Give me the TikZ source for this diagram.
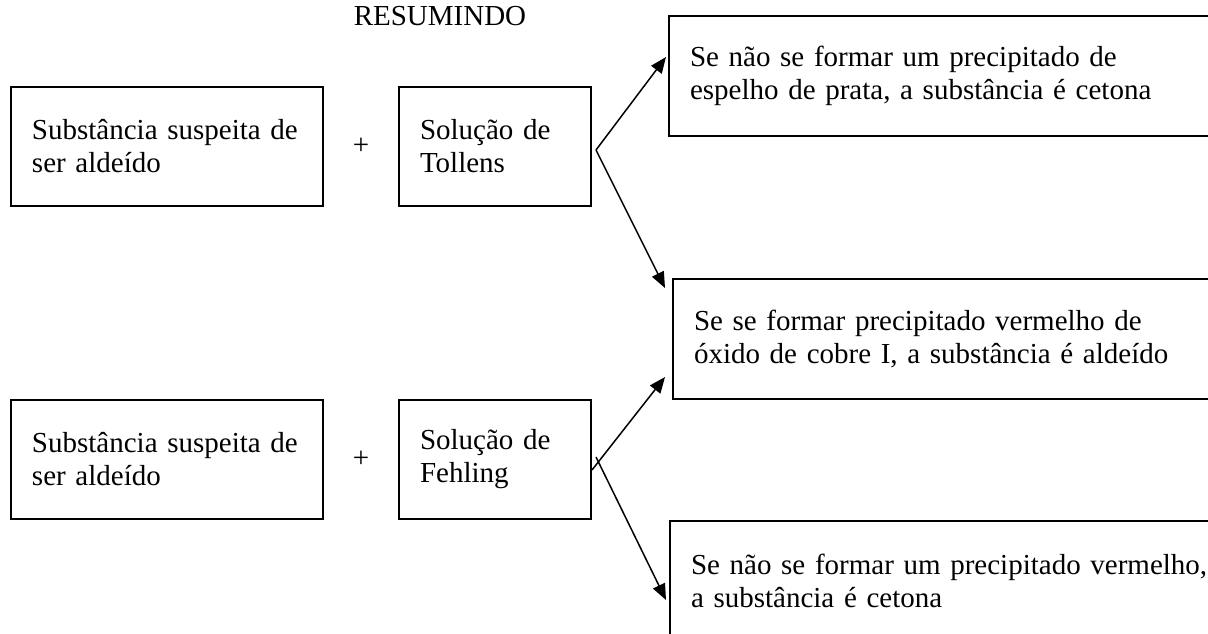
\documentclass[tikz,border=0pt]{standalone}
\usepackage{fontspec}
\setmainfont{Liberation Serif}
\usetikzlibrary{arrows.meta, positioning, calc}
\tikzstyle{arrow}=[-{Triangle[length=8pt,width=6.5pt]}, line width=0.75pt, color=black]

\begin{document}
\begin{tikzpicture}[x=0.5pt, y=-0.5pt, node distance=96pt and 37pt,
  every node/.style={font=\fontsize{14.5}{16.5}\selectfont},
  sample/.style={rectangle, draw=black, line width=1pt, inner xsep=10.5pt,
                 inner ysep=0pt, text width=135pt, minimum height=59.5pt,
                 align=left},
  reagent/.style={sample, text width=75pt},
  result/.style={rectangle, draw=black, line width=1pt, inner xsep=10.5pt,
                 inner ysep=0pt, text width=300pt, minimum height=60pt,
                 align=left}
]
\useasboundingbox (0,0) rectangle (1208,633);

% Title
\node (title) at (440,16.5) {RESUMINDO};

% Left column: samples and reagents
\node[sample] (susp1) at (167,146.5) {Substância suspeita de\\ ser aldeído};
\node[reagent, right=of susp1] (tollens) {Solução de\\ Tollens};
\node[sample, below=of susp1] (susp2) {Substância suspeita de\\ ser aldeído};
\node[reagent, below=of tollens] (fehling) {Solução de\\ Fehling};
\node (plus1) at ($(susp1.east)!0.5!(tollens.west)$) {+};
\node (plus2) at ($(susp2.east)!0.5!(fehling.west)$) {+};

% Right column: results
\node[result, right=38pt of tollens.north east, yshift=5pt] (cetona1)
  {Se não se formar um precipitado de\\ espelho de prata, a substância é cetona};
\node[result, right=40pt of fehling.north east, yshift=30pt] (aldeido)
  {Se se formar precipitado vermelho de\\ óxido de cobre I, a substância é aldeído};
\node[result, right=38.5pt of fehling.south east, yshift=-30.5pt] (cetona2)
  {Se não se formar um precipitado vermelho,\\ a substância é cetona};

% Split points
\coordinate (tsplit) at ($(tollens.east)+(4,3.5)$);
\coordinate (fsplitA) at ($(fehling.east)+(0,10.5)$);
\coordinate (fsplitB) at ($(fehling.east)+(4,-2.5)$);

% Arrows
\draw[arrow] (tsplit) -- ($(cetona1.west)+(-2,-19)$);
\draw[arrow] (tsplit) -- ($(aldeido.north west)+(-7,10)$);
\draw[arrow] (fsplitA) -- ($(aldeido.south west)+(-7,-23)$);
\draw[arrow] (fsplitB) -- ($(cetona2.west)+(-3,19)$);
\end{tikzpicture}
\end{document}
